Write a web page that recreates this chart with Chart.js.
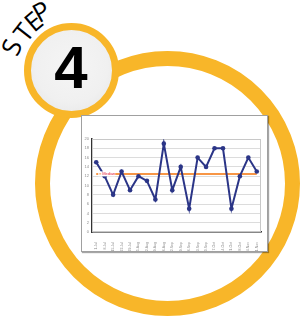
<!DOCTYPE html>
<html>
<head>
<meta charset="utf-8">
<script src="https://cdn.jsdelivr.net/npm/chart.js@4.4.0/dist/chart.umd.min.js"></script>
<style>
html,body{margin:0;padding:0;background:#fff;width:308px;height:317px;overflow:hidden;}
.ring{position:absolute;left:35px;top:51px;width:265px;height:265px;border:15px solid #F8B629;border-radius:50%;box-sizing:border-box;background:#fff;}
.badge{position:absolute;left:24px;top:23px;width:95px;height:95px;border:7px solid #F8B629;border-radius:50%;box-sizing:border-box;
  background:radial-gradient(circle at 50% 45%, #f5f5f5 0%, #f0f0f0 60%, #e4e4e4 100%);}
.num{position:absolute;left:71px;top:68px;transform:translate(-50%,-50%);font:700 60px "Liberation Sans",Arial,sans-serif;color:#000;line-height:1;}
.ltr{position:absolute;font:400 26px "Open Sans",sans-serif;color:#000;line-height:1;}
.box{position:absolute;left:81px;top:115px;width:185px;height:135px;border:1px solid #a0a0a0;background:#fff;box-shadow:1px 1px 1px rgba(0,0,0,.35);}
canvas{display:block;}
</style>
</head>
<body>
<div class="ring"></div>
<div class="badge"></div>
<div class="num">4</div>
<span class="ltr" style="left:11px;top:47px;transform:translate(-50%,-50%) rotate(-66deg)">S</span>
<span class="ltr" style="left:23px;top:32px;transform:translate(-50%,-50%) rotate(-52deg)">T</span>
<span class="ltr" style="left:33px;top:21px;transform:translate(-50%,-50%) rotate(-40deg)">E</span>
<span class="ltr" style="left:41px;top:11px;transform:translate(-50%,-50%) rotate(-29deg)">P</span>
<div class="box"><canvas id="c" width="185" height="135"></canvas></div>
<script>
const categories = ["1-Jul","8-Jul","15-Jul","22-Jul","29-Jul","5-Aug","12-Aug","19-Aug","26-Aug","2-Sep","9-Sep","16-Sep","23-Sep","30-Sep","7-Oct","14-Oct","21-Oct","28-Oct","4-Nov","11-Nov"];
const values = [15, 12, 8, 13, 9, 12, 11, 7, 19, 9, 14, 5, 16, 14, 18, 18, 5, 12, 16, 13];
const medianValues = [12.5,12.5,12.5,12.5,12.5,12.5,12.5,12.5,12.5,12.5,12.5,12.5,12.5,12.5,12.5,12.5,12.5,12.5,12.5,12.5];
const yTicks = [0,2,4,6,8,10,12,14,16,18,20];

const frame = {
  id:'frame',
  beforeDatasetsDraw(chart){
    const {ctx, chartArea:a} = chart;
    ctx.save(); ctx.strokeStyle='#c8c8c8'; ctx.lineWidth=1;
    ctx.strokeRect(a.left+0.5, a.top+0.5, a.right-a.left-1, a.bottom-a.top-1);
    ctx.restore();
  },
  afterDatasetsDraw(chart){
    const x = chart.scales.x.getPixelForValue(0);
    const y = chart.scales.y.getPixelForValue(medianValues[0]);
    const ctx = chart.ctx;
    ctx.save();
    ctx.fillStyle='#fff'; ctx.fillRect(x+2, y-2.5, 17, 5);
    ctx.strokeStyle='#F79646'; ctx.lineWidth=1;
    ctx.beginPath(); ctx.moveTo(x+3,y); ctx.lineTo(x+5,y); ctx.stroke();
    ctx.fillStyle='#e0203a'; ctx.font='4px "Liberation Sans", Arial, sans-serif';
    ctx.textBaseline='middle'; ctx.fillText('Median', x+6, y);
    ctx.restore();
  }
};

new Chart(document.getElementById('c'), {
  type:'line',
  data:{
    labels:categories,
    datasets:[
      {data:values, borderColor:'#2B3587', backgroundColor:'#2B3587', borderWidth:2, pointRadius:2.3, pointBackgroundColor:'#2B3587', pointBorderWidth:0, tension:0, order:0},
      {data:medianValues, borderColor:'#F79646', borderWidth:2, pointRadius:0, tension:0, order:1}
    ]
  },
  options:{
    responsive:false, animation:false, devicePixelRatio:1,
    layout:{padding:{top:23,right:6,left:0,bottom:0}},
    plugins:{legend:{display:false}, tooltip:{enabled:false}},
    scales:{
      x:{offset:true, grid:{display:false}, border:{color:'#333',width:1.5},
         ticks:{autoSkip:false, maxRotation:90, minRotation:90, padding:2, color:'#8a8a8a', font:{size:3.5, family:'"Liberation Sans", Arial'}},
         afterFit(s){ s.height = 19; }},
      y:{min:0, max:20, grid:{color:'#dcdcdc', lineWidth:1, drawTicks:false}, border:{color:'#333',width:1.5},
         afterBuildTicks(s){ s.ticks = yTicks.map(v=>({value:v})); },
         ticks:{padding:3, color:'#8a8a8a', font:{size:4, family:'"Liberation Sans", Arial'}},
         afterFit(s){ s.width = 10; }}
    }
  },
  plugins:[frame]
});
</script>
</body>
</html>
